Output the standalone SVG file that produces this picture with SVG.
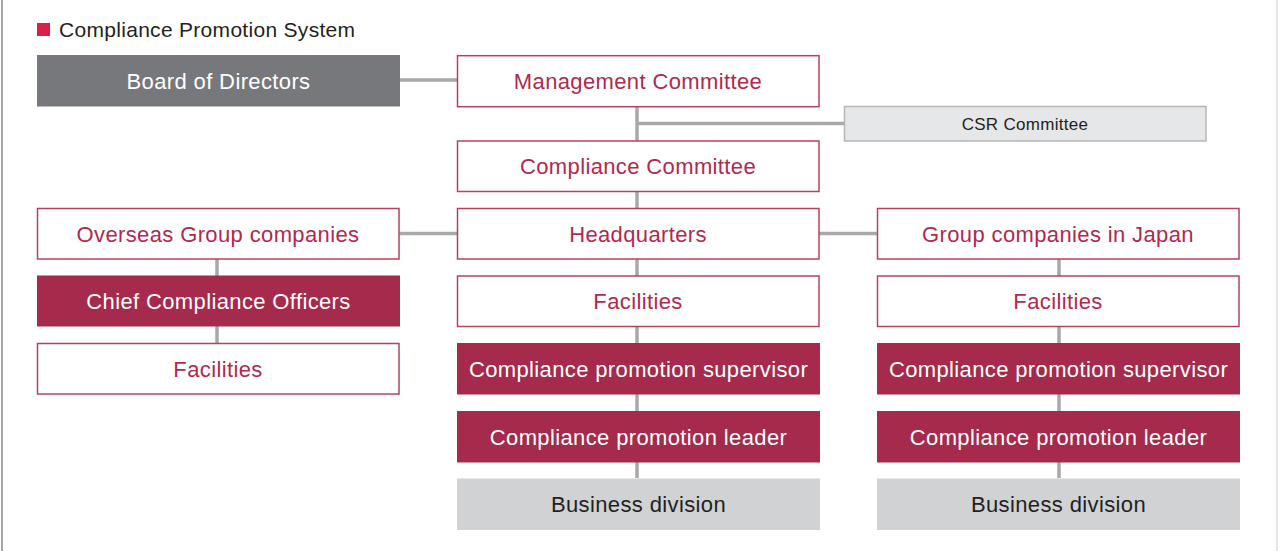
<svg xmlns="http://www.w3.org/2000/svg" width="1278" height="551" viewBox="0 0 1278 551">
<style>
text{font-family:"Liberation Sans",Arial,sans-serif;text-anchor:middle;}
.t{font-size:22px;letter-spacing:0.37px;}
.w rect{fill:#ffffff;stroke:#b8405f;stroke-width:1.5;}
.w text{fill:#b0294f;}
.f rect{fill:#a52a4b;}
.f text{fill:#ffffff;}
.g rect{fill:#d1d2d4;}
.g text{fill:#231f20;}
.conn line{stroke:#a8a9ab;stroke-width:3.5;}
</style>
<rect x="0" y="0" width="1278" height="551" fill="#ffffff"/>
<line x1="2" y1="0" x2="2" y2="551" stroke="#8a8a8a" stroke-width="1.5"/>
<line x1="1277" y1="0" x2="1277" y2="551" stroke="#dcdcdc" stroke-width="1.5"/>
<g id="title">
<rect x="37" y="23" width="13" height="13" fill="#dc1f48"/>
<text x="59" y="36.5" style="text-anchor:start;font-size:21px;letter-spacing:0.3px;" fill="#231f20">Compliance Promotion System</text>
</g>
<g id="connectors" class="conn">
<line x1="400" y1="80" x2="457" y2="80"/>
<line x1="637" y1="107" x2="637" y2="141"/>
<line x1="637" y1="123.5" x2="844" y2="123.5"/>
<line x1="637" y1="191.5" x2="637" y2="208.5"/>
<line x1="399.5" y1="233.5" x2="457" y2="233.5"/>
<line x1="819" y1="233.5" x2="877" y2="233.5"/>
<line x1="217" y1="259" x2="217" y2="343"/>
<line x1="637" y1="259" x2="637" y2="478"/>
<line x1="1059" y1="259" x2="1059" y2="478"/>
</g>
<g id="board">
<rect x="37" y="55" width="363" height="51.5" fill="#77787b"/>
<text class="t" x="218.5" y="89" fill="#ffffff">Board of Directors</text>
</g>
<g id="management" class="w">
<rect x="457.5" y="55.7" width="361.5" height="51"/>
<text class="t" x="638" y="89">Management Committee</text>
</g>
<g id="csr">
<rect x="844.5" y="106.5" width="361.5" height="34.5" fill="#e6e7e8" stroke="#b5b6b8" stroke-width="1.5"/>
<text x="1025" y="130" style="font-size:17px;letter-spacing:0.3px;" fill="#231f20">CSR Committee</text>
</g>
<g id="compliance-committee" class="w">
<rect x="457.5" y="141" width="361.5" height="50.5"/>
<text class="t" x="638" y="174">Compliance Committee</text>
</g>
<g id="overseas" class="w">
<rect x="37.5" y="208.5" width="361.5" height="50.5"/>
<text class="t" x="218" y="241.5">Overseas Group companies</text>
</g>
<g id="headquarters" class="w">
<rect x="457.5" y="208.5" width="361.5" height="50.5"/>
<text class="t" x="638" y="241.5">Headquarters</text>
</g>
<g id="japan" class="w">
<rect x="877.5" y="208.5" width="361.5" height="50.5"/>
<text class="t" x="1058" y="241.5">Group companies in Japan</text>
</g>
<g id="cco" class="f">
<rect x="37" y="275.5" width="363" height="51"/>
<text class="t" x="218.5" y="309">Chief Compliance Officers</text>
</g>
<g id="facilities-hq" class="w">
<rect x="457.5" y="276" width="361.5" height="50.5"/>
<text class="t" x="638" y="309">Facilities</text>
</g>
<g id="facilities-jp" class="w">
<rect x="877.5" y="276" width="361.5" height="50.5"/>
<text class="t" x="1058" y="309">Facilities</text>
</g>
<g id="facilities-ov" class="w">
<rect x="37.5" y="343.5" width="361.5" height="50.5"/>
<text class="t" x="218" y="376.5">Facilities</text>
</g>
<g id="supervisor-hq" class="f">
<rect x="457" y="343" width="363" height="51.5"/>
<text class="t" x="638.5" y="376.5">Compliance promotion supervisor</text>
</g>
<g id="supervisor-jp" class="f">
<rect x="877" y="343" width="363" height="51.5"/>
<text class="t" x="1058.5" y="376.5">Compliance promotion supervisor</text>
</g>
<g id="leader-hq" class="f">
<rect x="457" y="411" width="363" height="51.5"/>
<text class="t" x="638.5" y="444.5">Compliance promotion leader</text>
</g>
<g id="leader-jp" class="f">
<rect x="877" y="411" width="363" height="51.5"/>
<text class="t" x="1058.5" y="444.5">Compliance promotion leader</text>
</g>
<g id="business-hq" class="g">
<rect x="457" y="478.5" width="363" height="51.5"/>
<text class="t" x="638.5" y="511.5">Business division</text>
</g>
<g id="business-jp" class="g">
<rect x="877" y="478.5" width="363" height="51.5"/>
<text class="t" x="1058.5" y="511.5">Business division</text>
</g>
</svg>
